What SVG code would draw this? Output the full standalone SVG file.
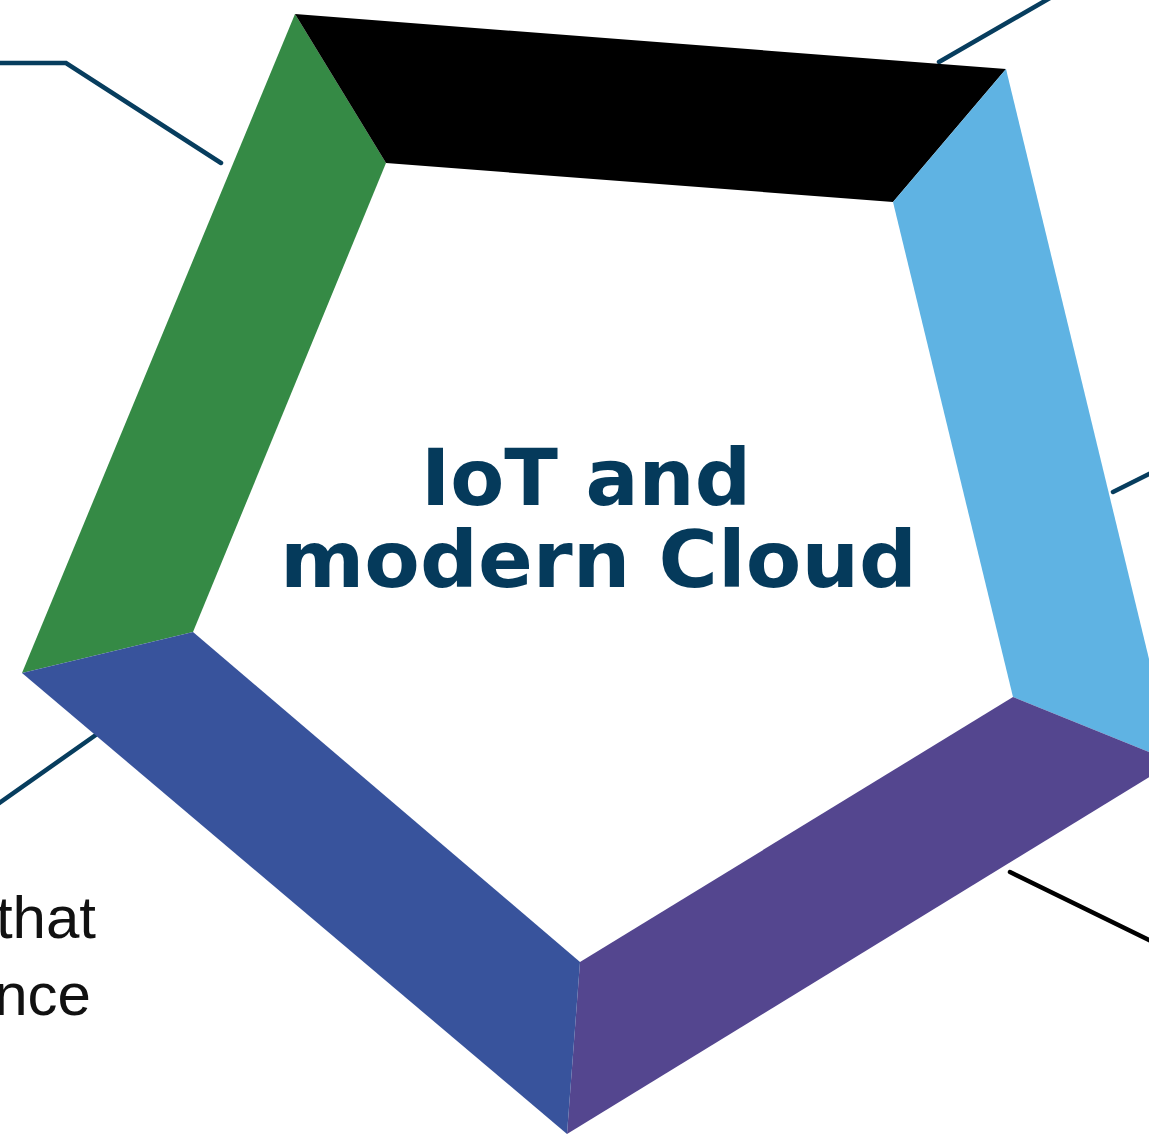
<svg xmlns="http://www.w3.org/2000/svg" width="1149" height="1134" viewBox="0 0 1149 1134">
<style>
.ln{fill:none;stroke:#073d5e;stroke-width:4.5;stroke-linecap:round;stroke-linejoin:miter}
.lk{fill:none;stroke:#000;stroke-width:4.5;stroke-linecap:round}
.title{font-family:"DejaVu Sans",sans-serif;font-weight:bold;font-size:79px;fill:#053a5b}
.side{font-family:"Liberation Sans","DejaVu Sans",sans-serif;font-size:60px;fill:#111}
</style>
<rect width="1149" height="1134" fill="#fff"/>
<g id="connectors">
<polyline class="ln" points="-5,63 66,63 221,163"/>
<line class="ln" x1="939" y1="62" x2="1050" y2="-2"/>
<line class="ln" x1="1113" y1="492" x2="1155" y2="471"/>
<line class="ln" x1="100" y1="732" x2="-5" y2="806"/>
<line class="lk" x1="1010" y1="872" x2="1155" y2="943"/>
</g>
<g id="seg-green"><polygon points="295,14 386,163 193,632 22,673" fill="#358a45"/></g>
<g id="seg-black"><polygon points="295,14 1006,69 893,202 386,163" fill="#000"/></g>
<g id="seg-lightblue"><polygon points="1006,69 1174,762 1013,697 893,202" fill="#5fb3e3"/></g>
<g id="seg-purple"><polygon points="1174,762 567,1134 580,962 1013,697" fill="#54468f"/></g>
<g id="seg-blue"><polygon points="567,1134 22,673 193,632 580,962" fill="#38539c"/></g>
<g id="center-label">
<text class="title" x="421" y="505" textLength="330" lengthAdjust="spacingAndGlyphs">IoT and</text>
<text class="title" x="280" y="587" textLength="637" lengthAdjust="spacingAndGlyphs">modern Cloud</text>
</g>
<g id="side-text">
<text class="side" x="96" y="938" text-anchor="end">that</text>
<text class="side" x="91" y="1015" text-anchor="end">nce</text>
</g>
</svg>
